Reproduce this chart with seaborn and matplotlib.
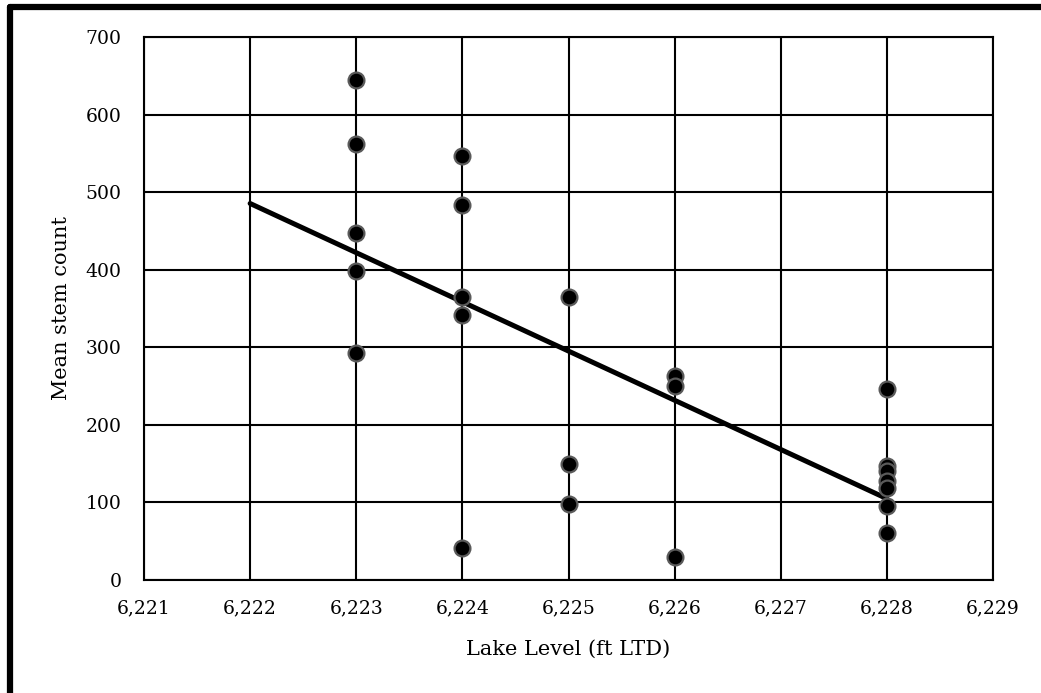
import numpy as np
import pandas as pd
import matplotlib.pyplot as plt
import seaborn as sns
from matplotlib.lines import Line2D
from matplotlib.ticker import FuncFormatter

# Werte
lake_level = [6223, 6223, 6223, 6223, 6223,
              6224, 6224, 6224, 6224, 6224,
              6225, 6225, 6225,
              6226, 6226, 6226,
              6228, 6228, 6228, 6228, 6228, 6228, 6228]
stem_count = [645, 562, 447, 398, 293,
              547, 484, 365, 342, 41,
              365, 150, 98,
              263, 250, 30,
              246, 147, 141, 128, 119, 95, 61]
trend_range = [6222, 6228]

df = pd.DataFrame({'level': lake_level, 'stems': stem_count})

# Lineare Regression (wie Excel-Trendlinie)
slope, intercept = np.polyfit(df['level'], df['stems'], 1)
trend = pd.DataFrame({'level': trend_range})
trend['stems'] = slope * trend['level'] + intercept

sns.set_style('white')
plt.rcParams['font.family'] = ['DejaVu Serif']
plt.rcParams['text.color'] = 'black'
plt.rcParams['axes.labelcolor'] = 'black'
plt.rcParams['xtick.color'] = 'black'
plt.rcParams['ytick.color'] = 'black'

fig = plt.figure(figsize=(10.41, 6.93), dpi=100)
ax = fig.add_axes([144 / 1041, 1 - 580 / 693, 849 / 1041, 543 / 693])

sns.lineplot(data=trend, x='level', y='stems', ax=ax, color='black', linewidth=3.6, zorder=3)
sns.scatterplot(data=df, x='level', y='stems', ax=ax, color='black', s=130,
                edgecolor='#5a5a5a', linewidth=1.6, zorder=4)

ax.set_xlim(6221, 6229)
ax.set_ylim(0, 700)
ax.set_xticks(range(6221, 6230))
ax.set_yticks(range(0, 701, 100))
ax.xaxis.set_major_formatter(FuncFormatter(lambda v, p: f'{int(v):,}'))
ax.grid(True, color='black', linewidth=1.5)
ax.set_axisbelow(True)
for s in ax.spines.values():
    s.set_color('black')
    s.set_linewidth(1.5)
ax.tick_params(length=0, labelsize=13.5)
ax.tick_params(axis='y', pad=16)
ax.tick_params(axis='x', pad=14)

ax.set_xlabel('Lake Level (ft LTD)', fontsize=15)
ax.set_ylabel('Mean stem count', fontsize=15)
ax.xaxis.set_label_coords(0.5, -0.11)
ax.yaxis.set_label_coords(-0.086, 0.5)

# Rahmen oben und links
fig.add_artist(Line2D([10 / 1041, 1], [1 - 7 / 693, 1 - 7 / 693], color='black', linewidth=4.5,
                      transform=fig.transFigure))
fig.add_artist(Line2D([10 / 1041, 10 / 1041], [0, 1 - 7 / 693], color='black', linewidth=4.5,
                      transform=fig.transFigure))

fig.savefig('out.png', dpi=100)
